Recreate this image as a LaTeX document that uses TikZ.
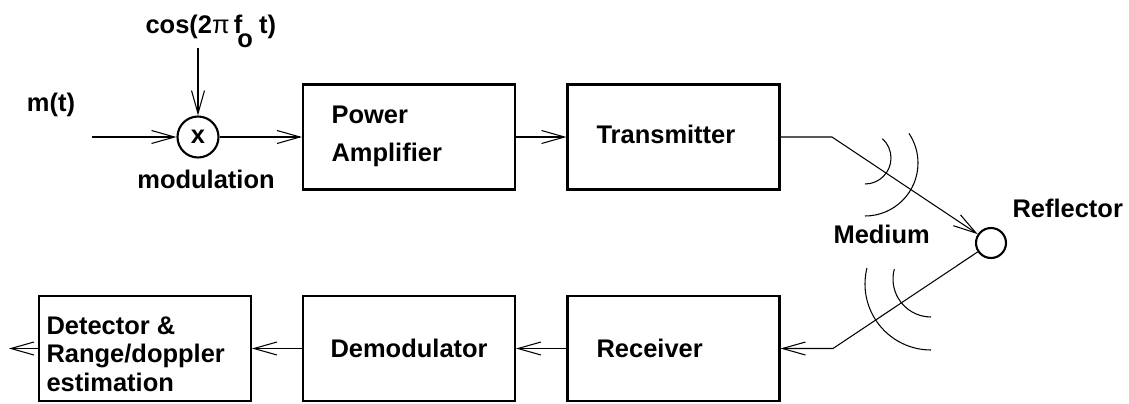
\documentclass[tikz,border=0pt]{standalone}
\usepackage{fontspec}
\setmainfont{Liberation Sans}
\usetikzlibrary{arrows.meta}

\begin{document}
\begin{tikzpicture}[x=0.02cm, y=0.02cm, line width=0.6pt,
        >={Straight Barb[length=0.46cm, width=0.26cm]},
        font=\fontsize{14.5}{21.5}\selectfont\bfseries,
        block/.style={draw, rectangle, line width=1.2pt, minimum width=4.24cm, minimum height=2.1cm, inner sep=0pt},
        ring/.style={draw, circle, line width=1.2pt, inner sep=0pt},
        lbl/.style={inner sep=0pt, align=left}
      ]
      \useasboundingbox (0,0) rectangle (1129,-403);

      \node[lbl, anchor=base] (mt) at (51,-111) {m(t)};
      \coordinate (src) at (92,-137);
      \node[ring, minimum size=0.82cm] (mix) at (198,-137) {x};
      \node[lbl, anchor=base west] (cos) at (145,-33)
        {cos(2{\mdseries π}\,f\hspace{-0.2em}\raisebox{-0.55em}{o}\hspace{0.25em}t)};
      \node[lbl, anchor=base] (modl) at (206,-188) {modulation};

      \node[block] (pa) at (409,-137) {};
      \node[lbl, anchor=north west] (patxt) at (331,-105.6) {Power\\Amplifier};
      \node[block] (tx) at (673.5,-137) {};
      \node[lbl, anchor=base west] (txtxt) at (596,-143) {Transmitter};
      \coordinate (bend1) at (832,-137);

      \node[ring, minimum size=0.6cm] (refl) at (991,-243) {};
      \node[lbl, anchor=base west] (refltxt) at (1012,-217) {Reflector};
      \node[lbl, anchor=base west] (med) at (833,-243) {Medium};
      \coordinate (bend2) at (833,-348.5);

      \node[block] (rx) at (673.5,-348.5) {};
      \node[lbl, anchor=base west] (rxtxt) at (596,-357) {Receiver};
      \node[block] (dm) at (409,-348.5) {};
      \node[lbl, anchor=base west] (dmtxt) at (330,-357) {Demodulator};
      \node[block] (det) at (145,-348.5) {};
      \node[lbl, anchor=north west, font=\fontsize{14.5}{16.2}\selectfont\bfseries] (dettxt) at (46,-316)
        {Detector \&\\Range/doppler\\estimation};
      \coordinate (out) at (9,-348.5);

      % send path
      \draw[->] (src) -- (mix);
      \draw[->] (mix |- cos.south) -- (mix);
      \draw[->] (mix) -- (pa);
      \draw[->] (pa) -- (tx);
      \draw[->] (tx.east) -- (bend1) -- (refl);

      % echo path
      \draw[->] (refl) -- (bend2) -- (rx.east);
      \draw[->] (rx) -- (dm);
      \draw[->] (dm) -- (det);
      \draw[->] (det.west) -- (out);

      % wave fronts
      \draw (865,-184) arc[start angle=-90, end angle=48, radius=26];
      \draw (865,-216) arc[start angle=-90, end angle=34, radius=53];
      \draw (931,-317) arc[start angle=270, end angle=165, radius=38];
      \draw (931,-350) arc[start angle=270, end angle=166, radius=66];
\end{tikzpicture}
\end{document}
